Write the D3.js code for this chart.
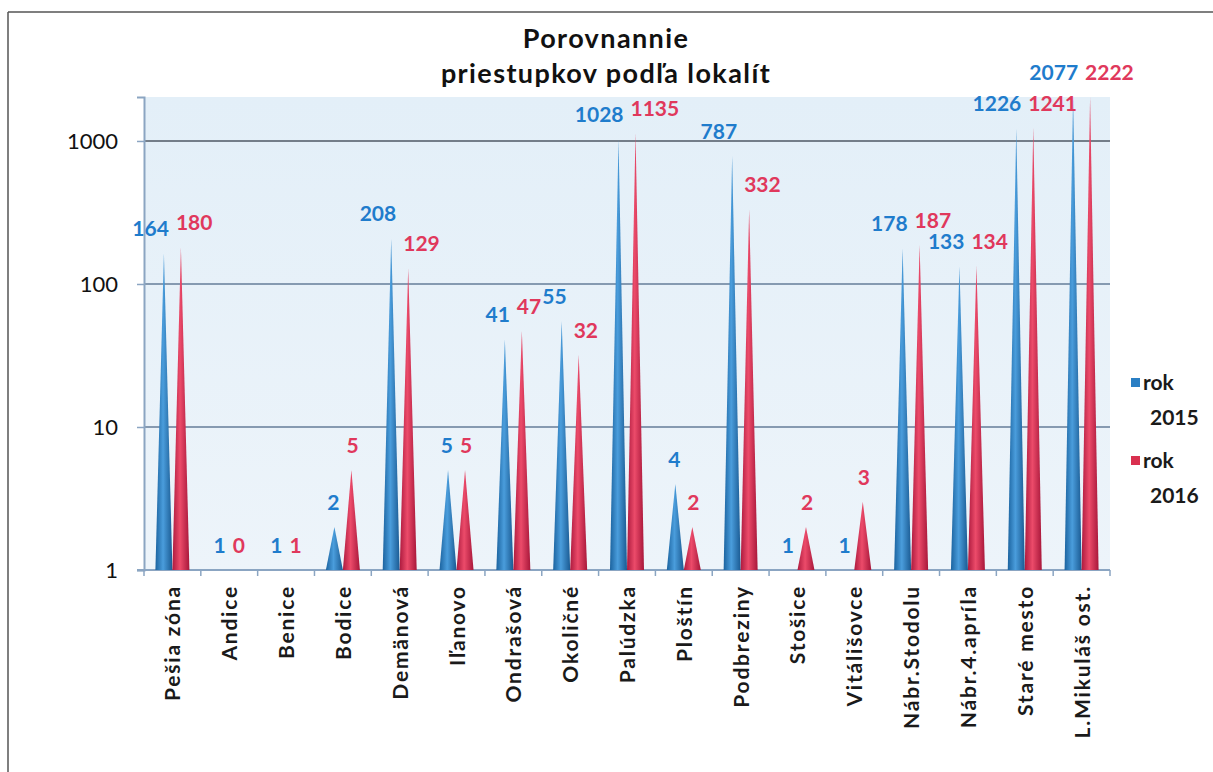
<html>
<head>
	<title>Porovnannie priestupkov</title>
	<meta charset="utf-8">
	<script src="https://d3js.org/d3.v7.min.js"></script>
	<style>
		body { margin: 0; background: #fff; }
		text { font-family: Lato, "Open Sans", sans-serif; }
	</style>
</head>
<body>
	<script type="text/javascript">
		var width = 1213
		var height = 772

		// data
		var categories = ["Pešia zóna", "Andice", "Benice", "Bodice", "Demänová", "Iľanovo", "Ondrašová", "Okoličné", "Palúdzka", "Ploštín", "Podbreziny", "Stošice", "Vitálišovce", "Nábr.Stodolu", "Nábr.4.apríla", "Staré mesto", "L.Mikuláš ost."]
		var rok2015 = [164, 1, 1, 2, 208, 5, 41, 55, 1028, 4, 787, 1, 1, 178, 133, 1226, 2077]
		var rok2016 = [180, 0, 1, 5, 129, 5, 47, 32, 1135, 2, 332, 2, 3, 187, 134, 1241, 2222]
		var seriesNames = ["rok 2015", "rok 2016"]
		var seriesColors = ["#2a7fc4", "#d9304f"]
		var labelColors = ["#1f7ccc", "#e0385c"]
		var yTicks = [1, 10, 100, 1000]

		var svg = d3.select("body").append("svg")
			.attr("width", width)
			.attr("height", height)

		// scan frame
		svg.append("line").attr("x1", 8).attr("x2", width).attr("y1", 12).attr("y2", 12)
			.attr("stroke", "#555").attr("stroke-width", 1.5)
		svg.append("line").attr("x1", 8).attr("x2", 8).attr("y1", 12).attr("y2", height)
			.attr("stroke", "#555").attr("stroke-width", 1.5)

		// note: "top" is taken by window.top, so plot edges get their own names
		var plotL = 144, plotR = 1110, plotT = 97, plotB = 570

		var x = d3.scaleBand().domain(categories).range([plotL, plotR])
		var xSub = d3.scalePoint().domain([0, 1]).range([-8.5, 8.5])
		var y = d3.scaleLog().domain([1, 2030]).range([plotB, plotT]).clamp(true)

		var defs = svg.append("defs")
		var grads = [["#1b639f", "#4a9ddc", "#1a5a92"], ["#ad1a3e", "#ec4b6a", "#a8173a"]]
		grads.forEach(function(g, i) {
			var lg = defs.append("linearGradient").attr("id", "cone" + i)
			lg.append("stop").attr("offset", "0%").attr("stop-color", g[0])
			lg.append("stop").attr("offset", "45%").attr("stop-color", g[1])
			lg.append("stop").attr("offset", "100%").attr("stop-color", g[2])
		})
		var bg = defs.append("linearGradient").attr("id", "plotbg").attr("x1", 0).attr("x2", 0).attr("y1", 0).attr("y2", 1)
		bg.append("stop").attr("offset", "0%").attr("stop-color", "#e3eff8")
		bg.append("stop").attr("offset", "100%").attr("stop-color", "#edf4fa")

		svg.append("rect")
			.attr("x", plotL).attr("y", plotT)
			.attr("width", plotR - plotL).attr("height", plotB - plotT)
			.attr("fill", "url(#plotbg)")

		// gridlines (the 1000 one prints darker on the scan)
		svg.selectAll("line.grid")
			.data(yTicks.slice(1))
			.enter()
			.append("line")
			.attr("class", "grid")
			.attr("x1", plotL).attr("x2", plotR)
			.attr("y1", d => y(d)).attr("y2", d => y(d))
			.attr("stroke", d => d == 1000 ? "#4f5864" : "#647c99")
			.attr("stroke-width", 1.6)

		// y axis
		var yAxis = svg.append("g")
			.attr("transform", "translate(" + plotL + ",0)")
			.call(d3.axisLeft(y).tickValues(yTicks).tickFormat(d3.format("d")).tickSize(7).tickPadding(19))
		yAxis.select(".domain").attr("stroke", "#8ba5c2").attr("stroke-width", 2)
		yAxis.selectAll(".tick line").attr("stroke", "#8ba5c2").attr("stroke-width", 1.5)
		yAxis.selectAll(".tick text")
			.attr("font-size", 22)
			.attr("fill", "#111")
			.attr("dy", "0.36em")
			.style("font-family", "Lato, sans-serif")

		// x axis line and ticks at category edges
		svg.append("line")
			.attr("x1", plotL - 7).attr("x2", plotR)
			.attr("y1", plotB).attr("y2", plotB)
			.attr("stroke", "#8ba5c2").attr("stroke-width", 2)
		svg.selectAll("line.xtick")
			.data(d3.range(categories.length + 1))
			.enter()
			.append("line")
			.attr("class", "xtick")
			.attr("x1", i => plotL + i * x.step()).attr("x2", i => plotL + i * x.step())
			.attr("y1", plotB).attr("y2", plotB + 6)
			.attr("stroke", "#8ba5c2").attr("stroke-width", 1.5)

		svg.selectAll("text.cat")
			.data(categories)
			.enter()
			.append("text")
			.attr("class", "cat")
			.attr("transform", d => "translate(" + (x(d) + x.bandwidth() / 2 + 8) + "," + (plotB + 15) + ") rotate(-90)")
			.attr("text-anchor", "end")
			.attr("font-size", 21)
			.attr("font-weight", "bold")
			.attr("letter-spacing", 1.8)
			.attr("fill", "#1a1a1a")
			.text(d => d)

		// cones
		var points = []
		categories.forEach(function(c, i) {
			points.push({cat: c, s: 0, v: rok2015[i]})
			points.push({cat: c, s: 1, v: rok2016[i]})
		})
		var coneW = 17

		function cx(d) { return x(d.cat) + x.bandwidth() / 2 + xSub(d.s) }
		function topY(d) { return y(Math.max(d.v, 1)) }

		svg.selectAll("path.cone")
			.data(points.filter(d => d.v > 1))
			.enter()
			.append("path")
			.attr("class", "cone")
			.attr("d", d => "M" + (cx(d) - coneW / 2) + "," + plotB + "L" + cx(d) + "," + topY(d) + "L" + (cx(d) + coneW / 2) + "," + plotB + "Z")
			.attr("fill", d => "url(#cone" + d.s + ")")

		// value labels: 2015 ones hang left of their cone, 2016 ones right
		svg.selectAll("text.val")
			.data(points)
			.enter()
			.append("text")
			.attr("class", "val")
			.attr("x", d => cx(d) + (d.s == 0 ? 5 : -5))
			.attr("y", d => topY(d) - 17)
			.attr("text-anchor", d => d.s == 0 ? "end" : "start")
			.attr("font-size", 21)
			.attr("font-weight", "bold")
			.attr("fill", d => labelColors[d.s])
			.text(d => d.v)

		// title
		svg.append("text")
			.attr("x", 606).attr("y", 48)
			.attr("text-anchor", "middle")
			.attr("font-size", 27).attr("font-weight", "bold").attr("letter-spacing", 1.4).attr("fill", "#111")
			.text("Porovnannie")
		svg.append("text")
			.attr("x", 606).attr("y", 83)
			.attr("text-anchor", "middle")
			.attr("font-size", 27).attr("font-weight", "bold").attr("letter-spacing", 1.4).attr("fill", "#111")
			.text("priestupkov podľa lokalít")

		// legend
		var legend = svg.selectAll("g.legend")
			.data(seriesNames)
			.enter()
			.append("g")
			.attr("class", "legend")
			.attr("transform", (d, i) => "translate(1131," + (378 + i * 78) + ")")
		legend.append("rect")
			.attr("width", 9).attr("height", 9)
			.attr("fill", (d, i) => seriesColors[i])
		legend.append("text")
			.attr("x", 12).attr("y", 12)
			.attr("font-size", 21).attr("font-weight", "bold").attr("fill", "#1a1a1a")
			.text(d => d.split(" ")[0])
		legend.append("text")
			.attr("x", 19).attr("y", 47)
			.attr("font-size", 21).attr("font-weight", "bold").attr("fill", "#1a1a1a")
			.text(d => d.split(" ")[1])
	</script>
</body>
</html>
